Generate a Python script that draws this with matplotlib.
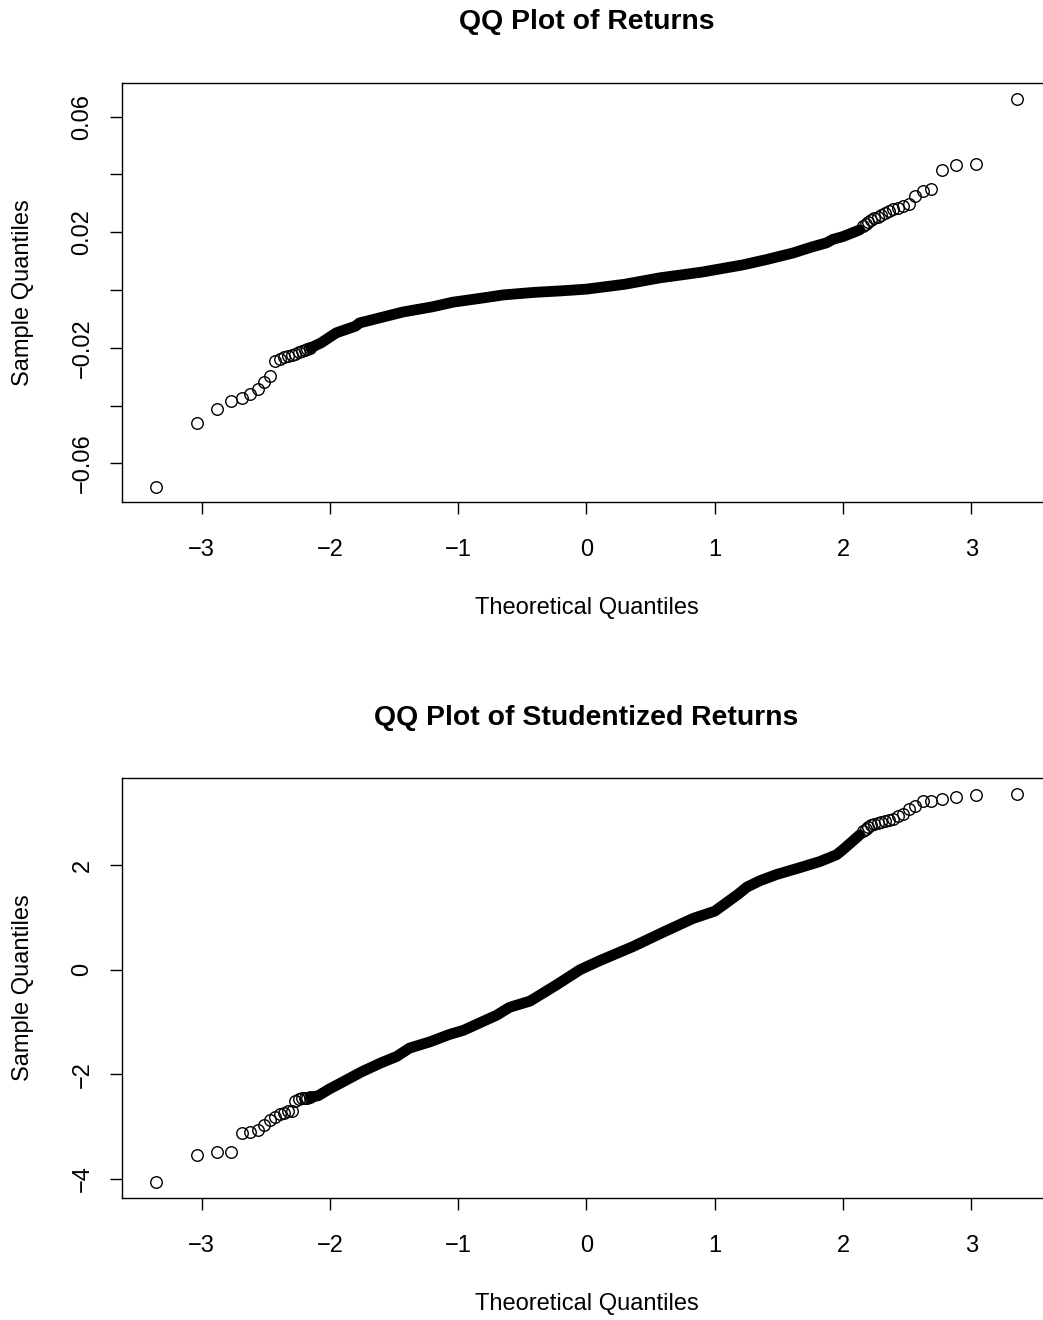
import numpy as np
import matplotlib
matplotlib.use("Agg")
import matplotlib.pyplot as plt
from statistics import NormalDist

plt.rcParams['font.family'] = ['Liberation Sans', 'DejaVu Sans']

# number of observations behind each qq plot
N_OBS = 1250

# ---- returns (top panel) ----
# lowest sample values, rank 1, 2, 3 ...
ret_low = [-0.0681, -0.0459, -0.0412, -0.0384, -0.0375, -0.0361, -0.0343, -0.0319,
           -0.0296, -0.0245, -0.0239, -0.0233, -0.0228, -0.0224, -0.0220, -0.0216,
           -0.0212, -0.0207, -0.0203, -0.0200]
# highest sample values, largest first
ret_high = [0.0661, 0.0436, 0.0433, 0.0415, 0.0349, 0.0343, 0.0325, 0.0296,
            0.0290, 0.0285, 0.0280, 0.0272, 0.0266, 0.0260, 0.0254, 0.0248,
            0.0242, 0.0236, 0.0228, 0.0220]
# dense middle part (theoretical quantile, sample quantile)
ret_body_x = [-2.15, -2.07, -1.95, -1.80, -1.77, -1.60, -1.43, -1.20, -1.04, -0.80,
              -0.65, -0.40, -0.20, 0.0, 0.30, 0.57, 0.90, 1.22, 1.40, 1.61,
              1.75, 1.87, 1.92, 2.00, 2.13]
ret_body_y = [-0.0200, -0.0183, -0.0148, -0.0125, -0.0114, -0.0095, -0.0076, -0.0058,
              -0.0042, -0.0027, -0.0017, -0.0008, -0.0003, 0.0003, 0.0020, 0.0042,
              0.0062, 0.0087, 0.0105, 0.0128, 0.0148, 0.0163, 0.0175, 0.0185, 0.0208]

# ---- studentized returns (bottom panel) ----
stu_low = [-4.07, -3.55, -3.49, -3.48, -3.12, -3.11, -3.06, -2.98, -2.88, -2.82,
           -2.77, -2.75, -2.71, -2.70, -2.52, -2.48, -2.46, -2.45, -2.45, -2.44]
stu_high = [3.37, 3.35, 3.31, 3.27, 3.23, 3.23, 3.14, 3.08, 2.98, 2.95,
            2.88, 2.86, 2.84, 2.82, 2.80, 2.79, 2.77, 2.73, 2.70, 2.66]
stu_body_x = [-2.15, -2.09, -2.01, -1.91, -1.75, -1.60, -1.48, -1.38, -1.22, -1.07,
              -0.96, -0.70, -0.60, -0.44, -0.24, -0.05, 0.10, 0.36, 0.60, 0.83,
              1.00, 1.09, 1.18, 1.25, 1.35, 1.48, 1.66, 1.82, 1.95, 2.00, 2.07, 2.13]
stu_body_y = [-2.44, -2.41, -2.29, -2.16, -1.95, -1.78, -1.66, -1.50, -1.38, -1.24,
              -1.16, -0.87, -0.72, -0.60, -0.30, 0.00, 0.17, 0.44, 0.72, 0.98,
              1.12, 1.28, 1.44, 1.58, 1.70, 1.82, 1.95, 2.07, 2.20, 2.30, 2.45, 2.58]

x_ticks = [-3, -2, -1, 0, 1, 2, 3]
ret_ticks = [-0.06, -0.04, -0.02, 0.0, 0.02, 0.04, 0.06]
ret_tick_labels = ['\u22120.06', '', '\u22120.02', '', '0.02', '', '0.06']
stu_ticks = [-4, -2, 0, 2]
stu_tick_labels = ['\u22124', '\u22122', '0', '2']

W, H = 1043, 1320
fig = plt.figure(figsize=(W / 100, H / 100), dpi=100)
nd = NormalDist()


def tails(low, high):
    tx = [nd.inv_cdf((i + 0.5) / N_OBS) for i in range(len(low))]
    tx += [nd.inv_cdf((N_OBS - k - 0.5) / N_OBS) for k in range(len(high))]
    return tx, list(low) + list(high)


def panel(rect, low, high, bx, by, yticks, ylabels, title, title_y, xlab_y):
    ax = fig.add_axes(rect)
    ax.plot(bx, by, color='black', lw=7.8, solid_capstyle='round',
            solid_joinstyle='round')
    tx, ty = tails(low, high)
    ax.plot(tx, ty, 'o', mfc='none', mec='black', ms=8.3, mew=1.0)

    # R style 4% padding around data range
    xmin, xmax = nd.inv_cdf(0.5 / N_OBS), nd.inv_cdf(1 - 0.5 / N_OBS)
    px = 0.04 * (xmax - xmin)
    ax.set_xlim(xmin - px, xmax + px)
    ymin, ymax = min(ty), max(ty)
    py = 0.04 * (ymax - ymin)
    ax.set_ylim(ymin - py, ymax + py)

    ax.set_xticks(x_ticks)
    ax.set_xticklabels(['\u2212%d' % -t if t < 0 else '%d' % t for t in x_ticks])
    ax.set_yticks(yticks)
    ax.set_yticklabels(ylabels, rotation=90, va='center')
    ax.tick_params(axis='both', direction='out', length=8.6, width=1.0,
                   labelsize=17, color='black')
    ax.tick_params(axis='x', pad=18)
    ax.tick_params(axis='y', pad=12)
    for s in ax.spines.values():
        s.set_linewidth(1.0)

    l, b, w, h = rect
    cx = (l + w / 2)
    fig.text(cx, 1 - title_y / H, title, ha='center', va='center',
             fontsize=20.4, fontweight='bold')
    fig.text(cx, 1 - xlab_y / H, 'Theoretical Quantiles', ha='center',
             va='center', fontsize=17)
    fig.text(23 / W, b + h / 2, 'Sample Quantiles', ha='center', va='center',
             rotation=90, fontsize=17)
    return ax


left = 122 / W
width = (1051 - 122) / W
panel([left, 1 - 502.4 / H, width, (502.4 - 83.4) / H], ret_low, ret_high,
      ret_body_x, ret_body_y, ret_ticks, ret_tick_labels,
      'QQ Plot of Returns', 22, 608)
panel([left, 1 - 1198 / H, width, (1198 - 778) / H], stu_low, stu_high,
      stu_body_x, stu_body_y, stu_ticks, stu_tick_labels,
      'QQ Plot of Studentized Returns', 718, 1304)

fig.savefig('out.png', dpi=100)
